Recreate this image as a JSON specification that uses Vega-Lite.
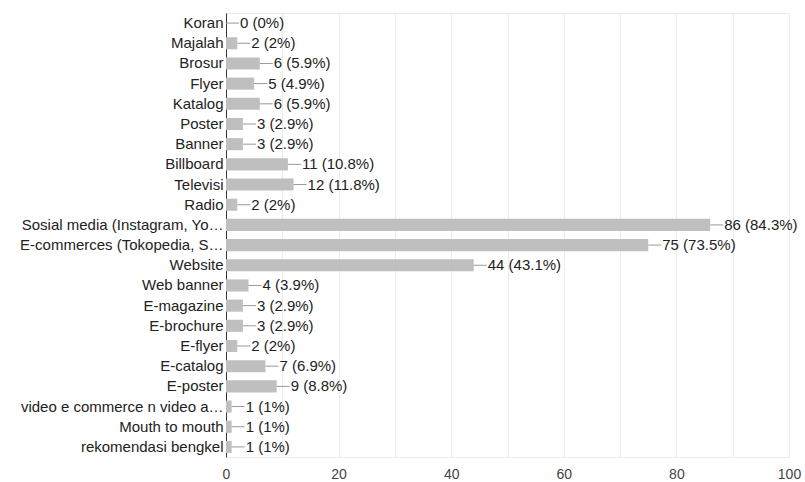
{
  "$schema": "https://vega.github.io/schema/vega-lite/v6.json",
  "width": 563,
  "height": 444,
  "autosize": {"type": "none"},
  "padding": {"left": 226, "top": 13, "right": 16, "bottom": 25},
  "background": "white",
  "config": {
    "font": "Liberation Sans",
    "view": {"stroke": "#ebebeb", "strokeWidth": 1}
  },
  "data": {
    "values": [
      {"media": "Koran", "count": 0, "label": "0 (0%)"},
      {"media": "Majalah", "count": 2, "label": "2 (2%)"},
      {"media": "Brosur", "count": 6, "label": "6 (5.9%)"},
      {"media": "Flyer", "count": 5, "label": "5 (4.9%)"},
      {"media": "Katalog", "count": 6, "label": "6 (5.9%)"},
      {"media": "Poster", "count": 3, "label": "3 (2.9%)"},
      {"media": "Banner", "count": 3, "label": "3 (2.9%)"},
      {"media": "Billboard", "count": 11, "label": "11 (10.8%)"},
      {"media": "Televisi", "count": 12, "label": "12 (11.8%)"},
      {"media": "Radio", "count": 2, "label": "2 (2%)"},
      {"media": "Sosial media (Instagram, Yo…", "count": 86, "label": "86 (84.3%)"},
      {"media": "E-commerces (Tokopedia, S…", "count": 75, "label": "75 (73.5%)"},
      {"media": "Website", "count": 44, "label": "44 (43.1%)"},
      {"media": "Web banner", "count": 4, "label": "4 (3.9%)"},
      {"media": "E-magazine", "count": 3, "label": "3 (2.9%)"},
      {"media": "E-brochure", "count": 3, "label": "3 (2.9%)"},
      {"media": "E-flyer", "count": 2, "label": "2 (2%)"},
      {"media": "E-catalog", "count": 7, "label": "7 (6.9%)"},
      {"media": "E-poster", "count": 9, "label": "9 (8.8%)"},
      {"media": "video e commerce n video a…", "count": 1, "label": "1 (1%)"},
      {"media": "Mouth to mouth", "count": 1, "label": "1 (1%)"},
      {"media": "rekomendasi bengkel", "count": 1, "label": "1 (1%)"}
    ]
  },
  "encoding": {
    "y": {
      "field": "media",
      "type": "nominal",
      "sort": null,
      "title": null,
      "scale": {"paddingInner": 0.4, "paddingOuter": 0.2},
      "axis": {
        "ticks": false,
        "domainColor": "#333333",
        "labelColor": "#222222",
        "labelFontSize": 15,
        "labelPadding": 3,
        "labelLimit": 300,
        "grid": false
      }
    },
    "x": {
      "field": "count",
      "type": "quantitative",
      "title": null,
      "scale": {"domain": [0, 100], "nice": false},
      "axis": {
        "values": [0, 10, 20, 30, 40, 50, 60, 70, 80, 90, 100],
        "labelExpr": "datum.value % 20 === 0 ? datum.label : ''",
        "domain": false,
        "ticks": false,
        "gridColor": "#ebebeb",
        "labelColor": "#444444",
        "labelFontSize": 14,
        "labelPadding": 10,
        "labelFlush": false
      }
    }
  },
  "layer": [
    {"mark": {"type": "bar", "color": "#bfbfbf"}},
    {
      "mark": {"type": "rule", "color": "#999999", "strokeWidth": 1, "x2Offset": 13},
      "encoding": {"x2": {"field": "count"}}
    },
    {
      "mark": {"type": "text", "align": "left", "baseline": "middle", "dx": 14, "fontSize": 15, "color": "#222222"},
      "encoding": {"text": {"field": "label"}}
    }
  ]
}
